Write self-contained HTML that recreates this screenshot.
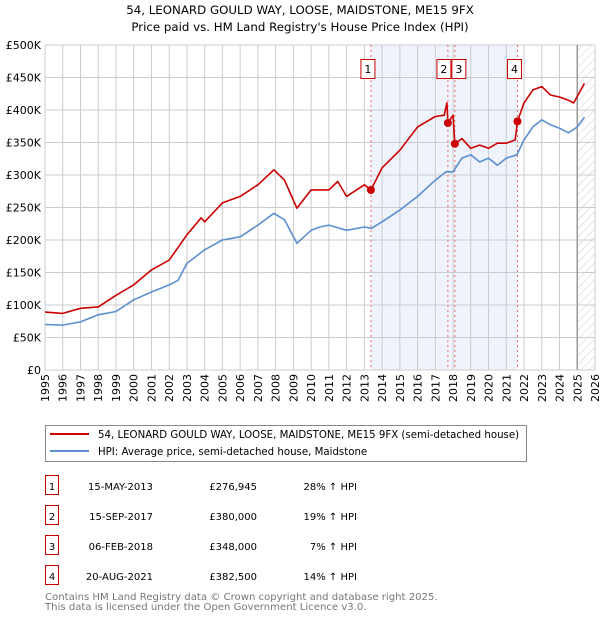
<!DOCTYPE html>
<html><head><meta charset="utf-8">
<style>
body{margin:0;background:#fff;width:600px;height:620px;overflow:hidden;font-family:"DejaVu Sans","Liberation Sans",sans-serif;}
svg text{font-family:"DejaVu Sans","Liberation Sans",sans-serif;}
</style></head>
<body>
<svg id="chart" width="600" height="620" xmlns="http://www.w3.org/2000/svg">
<defs><pattern id="hatch" width="6" height="6" patternUnits="userSpaceOnUse" patternTransform="rotate(45)"><line x1="0" y1="0" x2="0" y2="6" stroke="#ccc" stroke-width="1"/></pattern></defs>
<text x="300" y="14" text-anchor="middle" font-size="11.8">54, LEONARD GOULD WAY, LOOSE, MAIDSTONE, ME15 9FX</text>
<text x="300" y="31" text-anchor="middle" font-size="11.8">Price paid vs. HM Land Registry's House Price Index (HPI)</text>
<g id="plot"></g>
<rect x="45.5" y="425.5" width="481" height="36" fill="#fff" stroke="#888"/>
<line x1="50" y1="434" x2="89" y2="434" stroke="#cc0000" stroke-width="2"/>
<text x="98" y="438" font-size="10.2">54, LEONARD GOULD WAY, LOOSE, MAIDSTONE, ME15 9FX (semi-detached house)</text>
<line x1="50" y1="451" x2="89" y2="451" stroke="#5b8fd0" stroke-width="2"/>
<text x="98" y="455" font-size="10.2">HPI: Average price, semi-detached house, Maidstone</text>
<g id="table" font-size="10"></g>
<text x="45" y="600" font-size="10.1" fill="#777">Contains HM Land Registry data © Crown copyright and database right 2025.</text>
<text x="45" y="610" font-size="10.1" fill="#777">This data is licensed under the Open Government Licence v3.0.</text>
</svg>
<script>
const hpiYears=[1995,1996,1997,1998,1999,2000,2001,2002,2002.5,2003,2004,2005,2006,2007,2007.9,2008.5,2009.2,2010,2010.5,2011,2012,2013,2013.4,2014,2015,2016,2017,2017.6,2018,2018.5,2019,2019.5,2020,2020.5,2021,2021.6,2022,2022.5,2023,2023.5,2024,2024.5,2025,2025.4];
const hpiValues=[70000,69000,74000,85000,90000,108000,120000,131000,138000,164000,185000,200000,205000,223000,241000,231000,195000,215000,220000,223000,215000,220000,218000,228000,246000,267000,292000,305000,305000,326000,331000,320000,326000,315000,326000,331000,354000,374000,385000,377000,372000,365000,374000,389000];
const priceYears=[1995,1996,1997,1998,1999,2000,2001,2002,2003,2003.8,2004,2005,2006,2007,2007.9,2008.5,2009.2,2010,2011,2011.5,2012,2013,2013.37,2014,2015,2016,2017,2017.5,2017.65,2017.71,2018.0,2018.1,2018.5,2019,2019.5,2020,2020.5,2021,2021.5,2021.63,2022,2022.5,2023,2023.5,2024,2024.5,2024.8,2025.4];
const priceValues=[89000,87000,95000,97000,115000,131000,154000,169000,208000,234000,228000,257000,267000,285000,308000,292000,249000,277000,277000,290000,267000,285000,276945,311000,338000,374000,390000,392000,411000,380000,392000,348000,356000,341000,346000,341000,349000,349000,354000,382500,411000,431000,436000,423000,420000,415000,411000,441000];
const saleLabels=["1","2","3","4"];
const saleYears=[2013.37,2017.71,2018.10,2021.63];
const salePrices=[276945,380000,348000,382500];
const saleDates=["15-MAY-2013","15-SEP-2017","06-FEB-2018","20-AUG-2021"];
const salePriceText=["£276,945","£380,000","£348,000","£382,500"];
const saleHpiText=["28% ↑ HPI","19% ↑ HPI","7% ↑ HPI","14% ↑ HPI"];
const yTicks=[0,50000,100000,150000,200000,250000,300000,350000,400000,450000,500000];
const yTickLabels=["£0","£50K","£100K","£150K","£200K","£250K","£300K","£350K","£400K","£450K","£500K"];
const xTicks=[1995,1996,1997,1998,1999,2000,2001,2002,2003,2004,2005,2006,2007,2008,2009,2010,2011,2012,2013,2014,2015,2016,2017,2018,2019,2020,2021,2022,2023,2024,2025,2026];

const X0=45,X1=595,Y0=370,Y1=45;
const xs=y=>X0+(y-1995)*(X1-X0)/31;
const ys=v=>Y0-v*(Y0-Y1)/500000;
const NS="http://www.w3.org/2000/svg";
const plot=document.getElementById('plot');
function mk(tag,attrs,parent){const e=document.createElementNS(NS,tag);for(const k in attrs)e.setAttribute(k,attrs[k]);(parent||plot).appendChild(e);return e;}

let r=mk('rect',{x:xs(saleYears[0]),y:Y1,width:xs(saleYears[3])-xs(saleYears[0]),height:Y0-Y1,fill:'#eef3fc'});


r=mk('rect',{x:xs(2025),y:Y1,width:X1-xs(2025),height:Y0-Y1,fill:'url(#hatch)'});


xTicks.forEach(t=>{
  let l=mk('line',{x1:xs(t),x2:xs(t),y1:Y1,y2:Y0,stroke:'#ccc'});
  
  
  const tx0=xs(t)+4,ty0=374;
  let tx=mk('text',{x:tx0,y:ty0,'text-anchor':'end','font-size':11,transform:'rotate(-90 '+tx0+' '+ty0+')'});
  
  
  tx.textContent=t;
});
yTicks.forEach((t,i)=>{
  let l=mk('line',{x1:X0,x2:X1,y1:ys(t),y2:ys(t),stroke:'#ccc'});
  
  
  let tx=mk('text',{x:41,y:ys(t)+4,'text-anchor':'end','font-size':11});
  
  
  tx.textContent=yTickLabels[i];
});
let nl=mk('line',{x1:xs(2025),x2:xs(2025),y1:Y1,y2:Y0,stroke:'#999','stroke-width':1.5});


saleYears.forEach((sy,i)=>{
  let l=mk('line',{x1:xs(sy),x2:xs(sy),y1:Y1,y2:Y0,stroke:'#e66','stroke-dasharray':'2,3'});
  
  
});
function path(xsArr,vals,color,name){
  let d=xsArr.map((y,i)=>(i?'L':'M')+xs(y).toFixed(1)+','+ys(vals[i]).toFixed(1)).join('');
  let p=mk('path',{d:d,fill:'none',stroke:color,'stroke-width':1.6,'stroke-linejoin':'round'});
  
  
}
path(hpiYears,hpiValues,'#5b8fd0','hpi-line');
path(priceYears,priceValues,'#cc0000','price-line');
saleYears.forEach((sy,i)=>{
  let c=mk('circle',{cx:xs(sy),cy:ys(salePrices[i]),r:4,fill:'#cc0000'});
  
  
  let bx=xs(sy)+(i==1?-4:(i==2?4:-3));
  let b=mk('rect',{x:bx-7,y:59.5,width:14,height:19,fill:'#fff',stroke:'#cc0000'});
  
  
  let t=mk('text',{x:bx,y:73,'text-anchor':'middle','font-size':11});
  
  
  t.textContent=saleLabels[i];
});
const tb=document.getElementById('table');
saleLabels.forEach((s,i)=>{
  const y=486+i*30;
  let b=mk('rect',{x:45.5,y:y-10.5,width:13,height:19,fill:'#fff',stroke:'#cc0000'},tb);
  
  
  const cells=[[52,s,'middle'],[153,saleDates[i],'end'],[257,salePriceText[i],'end'],[357,saleHpiText[i],'end']];
  cells.forEach(c=>{
    let t=mk('text',{x:c[0],y:y+4,'text-anchor':c[2]},tb);
    
    
    t.textContent=c[1];
  });
});
</script>
</body></html>
